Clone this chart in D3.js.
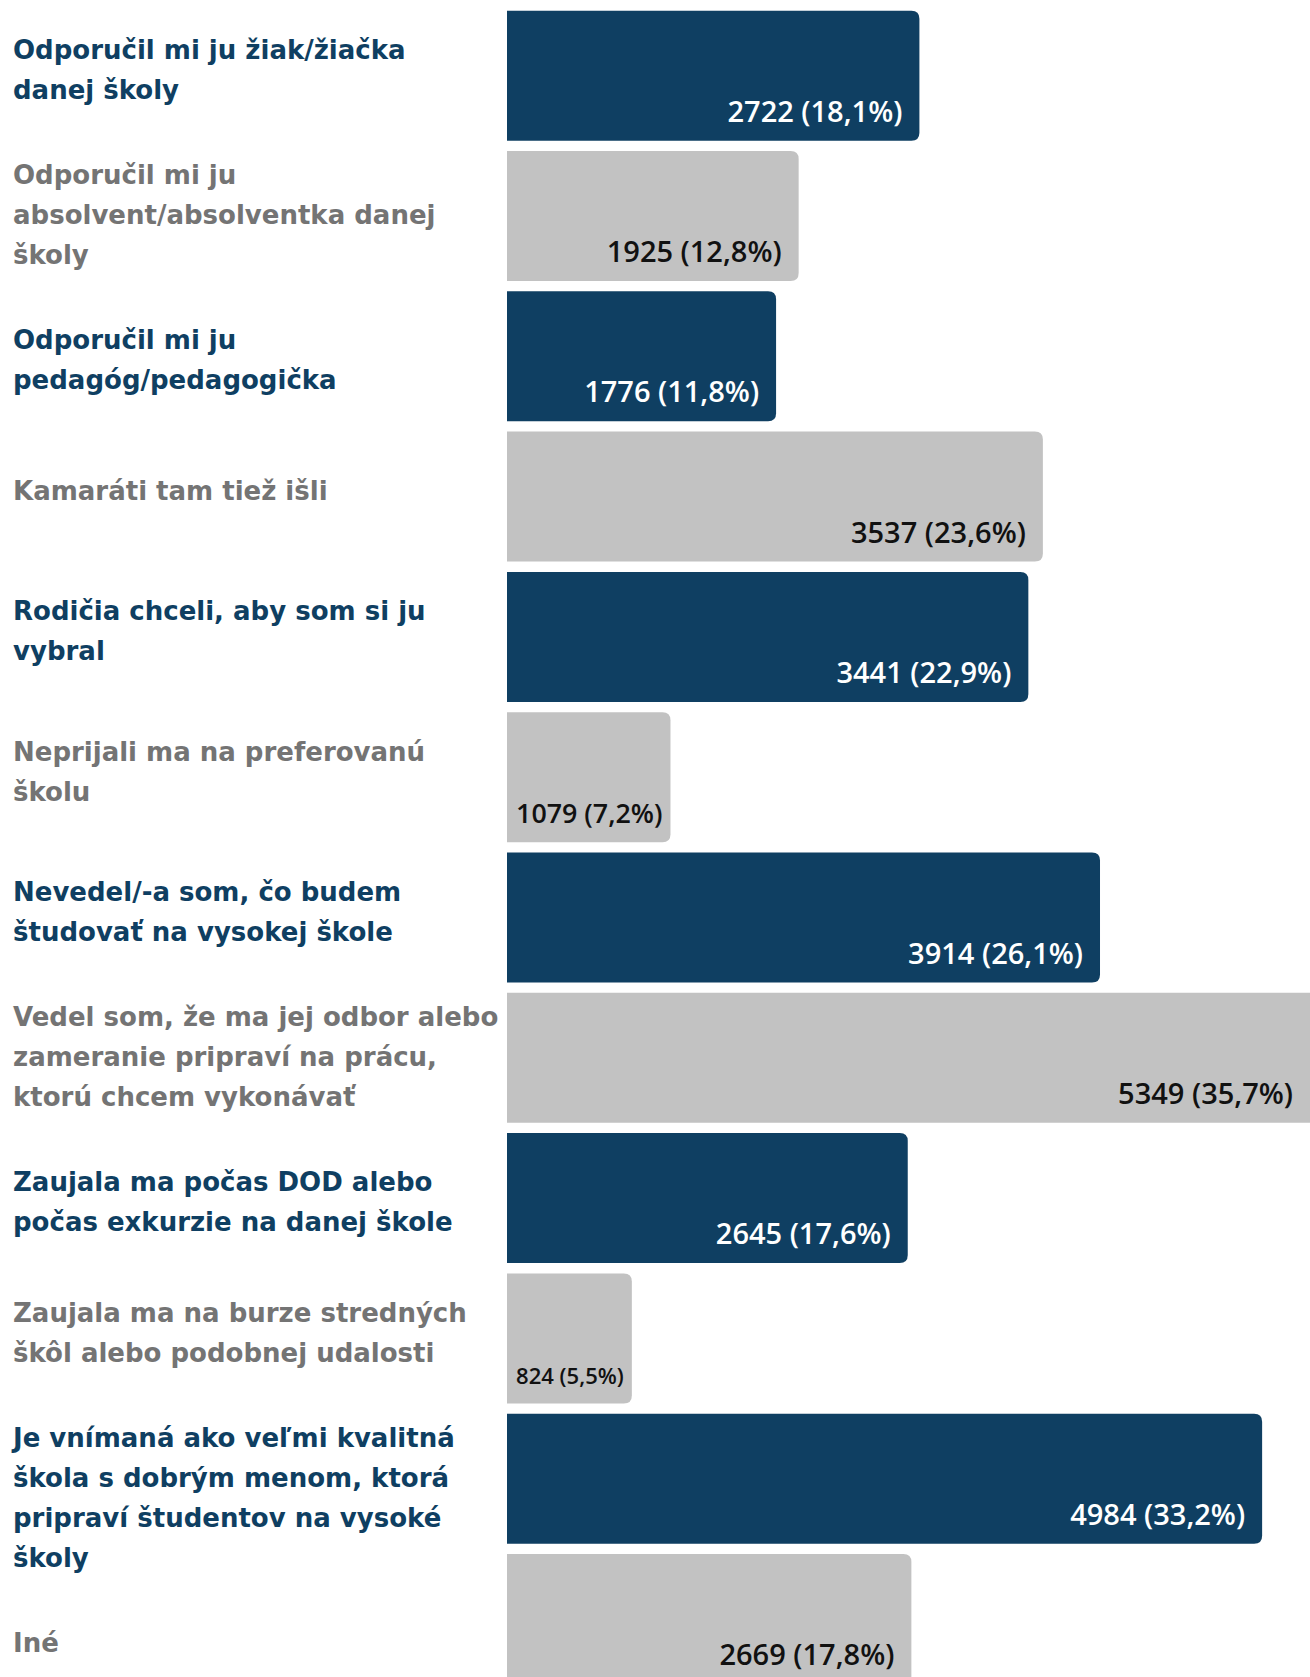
<!DOCTYPE html>
<html>
<head>
<meta charset="utf-8">
<script src="https://cdn.jsdelivr.net/npm/d3@7"></script>
<style>
  html, body { margin: 0; padding: 0; background: #fff; }
  svg { display: block; }
</style>
</head>
<body>
<svg class="chart_svg"></svg>
<script>
// categories, one "\n" per line break as in the picture
const categories = [
    "Odporučil mi ju žiak/žiačka\ndanej školy",
    "Odporučil mi ju\nabsolvent/absolventka danej\nškoly",
    "Odporučil mi ju\npedagóg/pedagogička",
    "Kamaráti tam tiež išli",
    "Rodičia chceli, aby som si ju\nvybral",
    "Neprijali ma na preferovanú\nškolu",
    "Nevedel/-a som, čo budem\nštudovať na vysokej škole",
    "Vedel som, že ma jej odbor alebo\nzameranie pripraví na prácu,\nktorú chcem vykonávať",
    "Zaujala ma počas DOD alebo\npočas exkurzie na danej škole",
    "Zaujala ma na burze stredných\nškôl alebo podobnej udalosti",
    "Je vnímaná ako veľmi kvalitná\nškola s dobrým menom, ktorá\npripraví študentov na vysoké\nškoly",
    "Iné"
];
const counts = [2722, 1925, 1776, 3537, 3441, 1079, 3914, 5349, 2645, 824, 4984, 2669];
const percents = ["18,1", "12,8", "11,8", "23,6", "22,9", "7,2", "26,1", "35,7", "17,6", "5,5", "33,2", "17,8"];

const width = 1310, height = 1677;
const navy = "#0f3f62", grey = "#c2c2c2";
const labelFont = "'DejaVu Sans', sans-serif";
const valueFont = "'Open Sans', sans-serif";

const svg = d3.select(".chart_svg")
    .attr("width", width)
    .attr("height", height);

const data = categories.map((c, i) => ({
    lines: c.split("\n"),
    count: counts[i],
    pct: percents[i],
    dark: i % 2 === 0
}));

// scales
const step = 140.3, gap = 10.3, yStart = 10.7;
const y = d3.scaleBand()
    .domain(d3.range(data.length))
    .range([yStart, yStart + data.length * step - gap])
    .paddingInner(gap / step)
    .paddingOuter(0);

const x = d3.scaleLinear().domain([0, 5300]).range([507, 1310]);

// bar with only the right corners rounded
function barPath(x0, x1, y0, h, r) {
    r = Math.min(r, (x1 - x0) / 2);
    return `M${x0},${y0}H${x1 - r}Q${x1},${y0} ${x1},${y0 + r}V${y0 + h - r}Q${x1},${y0 + h} ${x1 - r},${y0 + h}H${x0}Z`;
}

const rows = svg.selectAll(".row")
    .data(data)
    .join("g")
    .attr("class", "row");

rows.append("path")
    .attr("class", "bar")
    .attr("d", (d, i) => barPath(x(0), x(d.count), y(i), y.bandwidth(), 8))
    .style("fill", d => d.dark ? navy : grey);

// value labels, shrunk to fit short bars
const maxValSize = 29, valPad = 17;
rows.append("text")
    .attr("class", "value")
    .style("font-family", valueFont)
    .style("font-weight", 600)
    .style("font-size", maxValSize + "px")
    .style("fill", d => d.dark ? "#ffffff" : "#111111")
    .text(d => `${d.count} (${d.pct}%)`)
    .each(function (d, i) {
        const t = d3.select(this);
        const w = this.getComputedTextLength();
        const room = x(d.count) - x(0) - valPad;
        let size = maxValSize;
        if (w > room) size = maxValSize * room / w;
        t.style("font-size", size + "px")
            .attr("text-anchor", "end")
            .attr("x", Math.min(x(d.count), width) - valPad)
            .attr("y", y(i) + y.bandwidth() - 19);
        if (w > room) t.attr("x", x(d.count) - 8);
    });

// category labels: centred on the band, pushed down when the previous block runs long
const lineH = 40, minGap = 85, lift = 6;
let prevLast = -Infinity;
data.forEach((d, i) => {
    const centre = y(i) + y.bandwidth() / 2 - lift;
    let first = centre - (d.lines.length - 1) * lineH / 2;
    first = Math.max(first, prevLast + minGap);
    d.firstLine = first;
    prevLast = first + (d.lines.length - 1) * lineH;
});

const labels = svg.selectAll(".label")
    .data(data)
    .join("text")
    .attr("class", "label")
    .attr("x", 13)
    .style("font-family", labelFont)
    .style("font-weight", 700)
    .style("font-size", "26px")
    .style("fill", d => d.dark ? navy : "#747474");

labels.selectAll("tspan")
    .data(d => d.lines.map((l, k) => ({ text: l, y: d.firstLine + k * lineH })))
    .join("tspan")
    .attr("x", 13)
    .attr("y", t => t.y)
    .attr("dy", "0.36em")
    .text(t => t.text);
</script>
</body>
</html>
